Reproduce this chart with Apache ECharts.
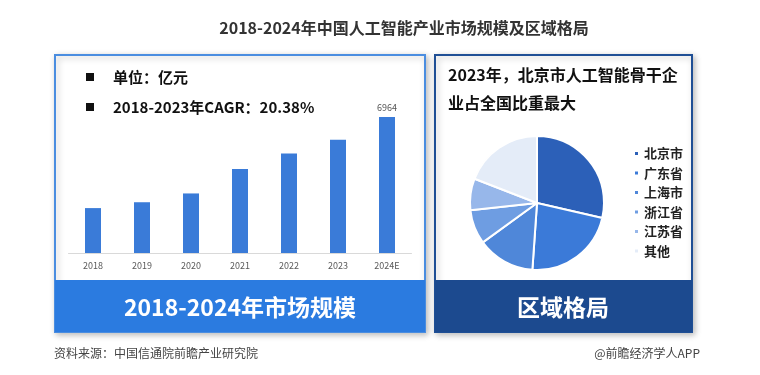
<!DOCTYPE html>
<html>
<head>
<meta charset="utf-8">
<script src="https://cdn.jsdelivr.net/npm/echarts@6/dist/echarts.min.js"></script>
<style>
html,body{margin:0;padding:0;background:#fff;}
#chart{width:760px;height:375px;}
</style>
</head>
<body>
<div id="chart"></div>
<script>
const years = ['2018', '2019', '2020', '2021', '2022', '2023', '2024E'];
const marketSize = [2300, 2600, 3050, 4300, 5100, 5800, 6964];
const labeledYear = '2024E';
const regions = ['北京市', '广东省', '上海市', '浙江省', '江苏省', '其他'];
const regionShare = [28.6, 22.5, 13.9, 8.3, 7.6, 19.1];
const regionColors = ['#2c60b8', '#3b7ad8', '#4f87d9', '#6e9de2', '#97b7ea', '#e4ecf8'];

const mainTitle = '2018-2024年中国人工智能产业市场规模及区域格局';
const unitNote = '单位：亿元';
const cagrNote = '2018-2023年CAGR：20.38%';
const pieNote1 = '2023年，北京市人工智能骨干企';
const pieNote2 = '业占全国比重最大';
const leftBanner = '2018-2024年市场规模';
const rightBanner = '区域格局';
const sourceText = '资料来源：中国信通院前瞻产业研究院';
const brandText = '@前瞻经济学人APP';

const FONT = '"Noto Sans CJK SC", "Noto Sans", sans-serif';

const chart = echarts.init(document.getElementById('chart'), null, {renderer: 'canvas'});

const barData = marketSize.map((v, i) => {
  if (years[i] === labeledYear) {
    return {value: v, label: {show: true, position: 'top', distance: 5, color: '#555', fontSize: 9, fontFamily: FONT}};
  }
  return v;
});

const option = {
  backgroundColor: '#ffffff',
  animation: false,
  textStyle: {fontFamily: FONT},
  graphic: [
    // left box
    {type: 'rect', z: -5, shape: {x: 55, y: 55, width: 370, height: 277},
      style: {fill: '#fff', stroke: '#4a8de0', lineWidth: 2, shadowBlur: 6, shadowColor: 'rgba(0,0,0,0.25)', shadowOffsetX: 2, shadowOffsetY: 2}},
    {type: 'rect', z: -4, shape: {x: 55, y: 280, width: 370, height: 52},
      style: {fill: '#2b7be0'}},
    // right box
    {type: 'rect', z: -5, shape: {x: 435, y: 55, width: 257, height: 277},
      style: {fill: '#fff', stroke: '#1f4f95', lineWidth: 2, shadowBlur: 6, shadowColor: 'rgba(0,0,0,0.25)', shadowOffsetX: 2, shadowOffsetY: 2}},
    {type: 'rect', z: -4, shape: {x: 435, y: 280, width: 257, height: 52},
      style: {fill: '#1c4a8f'}},
    // title
    {type: 'text', z: 10, x: 404, y: 28,
      style: {text: mainTitle, fill: '#333', font: 'bold 16px ' + FONT, align: 'center', verticalAlign: 'middle'}},
    // left notes
    {type: 'rect', z: 10, shape: {x: 86, y: 73, width: 8, height: 8}, style: {fill: '#111'}},
    {type: 'text', z: 10, x: 113, y: 77,
      style: {text: unitNote, fill: '#111', font: 'bold 15px ' + FONT, verticalAlign: 'middle'}},
    {type: 'rect', z: 10, shape: {x: 86, y: 103, width: 8, height: 8}, style: {fill: '#111'}},
    {type: 'text', z: 10, x: 113, y: 107,
      style: {text: cagrNote, fill: '#111', font: 'bold 15px ' + FONT, verticalAlign: 'middle'}},
    // right notes
    {type: 'text', z: 10, x: 448, y: 75,
      style: {text: pieNote1, fill: '#111', font: 'bold 16px ' + FONT, verticalAlign: 'middle'}},
    {type: 'text', z: 10, x: 448, y: 103,
      style: {text: pieNote2, fill: '#111', font: 'bold 16px ' + FONT, verticalAlign: 'middle'}},
    // banners text
    {type: 'text', z: 10, x: 240, y: 307,
      style: {text: leftBanner, fill: '#fff', font: 'bold 23px ' + FONT, align: 'center', verticalAlign: 'middle'}},
    {type: 'text', z: 10, x: 563, y: 307,
      style: {text: rightBanner, fill: '#fff', font: 'bold 23px ' + FONT, align: 'center', verticalAlign: 'middle'}},
    // footer
    {type: 'text', z: 10, x: 54, y: 353,
      style: {text: sourceText, fill: '#444', font: '12px ' + FONT, verticalAlign: 'middle'}},
    {type: 'text', z: 10, x: 700, y: 353,
      style: {text: brandText, fill: '#444', font: '12px ' + FONT, align: 'right', verticalAlign: 'middle'}}
  ],
  grid: {left: 68.5, right: 348.5, top: 96.8, bottom: 122, containLabel: false},
  xAxis: {
    type: 'category',
    data: years,
    axisTick: {show: false},
    axisLine: {show: true, lineStyle: {color: '#d9d9d9', width: 1}},
    axisLabel: {color: '#595959', fontSize: 9, margin: 8, fontFamily: FONT}
  },
  yAxis: {
    type: 'value', min: 0, max: 8000, show: false, splitLine: {show: false}
  },
  legend: {
    orient: 'vertical',
    left: 628,
    top: 142,
    icon: 'rect',
    itemWidth: 5,
    itemHeight: 5,
    itemGap: 6.5,
    data: regions,
    textStyle: {fontSize: 13, color: '#222', fontWeight: 'bold', fontFamily: FONT, padding: [0, 0, 0, 0]}
  },
  series: [
    {
      type: 'bar',
      data: barData,
      barWidth: 16,
      itemStyle: {color: '#3a7bd8'}
    },
    {
      type: 'pie',
      center: [537, 203],
      radius: [0, 67],
      startAngle: 90,
      clockwise: true,
      label: {show: false},
      labelLine: {show: false},
      itemStyle: {borderColor: '#fff', borderWidth: 2},
      data: regions.map((n, i) => ({name: n, value: regionShare[i], itemStyle: {color: regionColors[i]}}))
    }
  ]
};
chart.setOption(option);
</script>
</body>
</html>
